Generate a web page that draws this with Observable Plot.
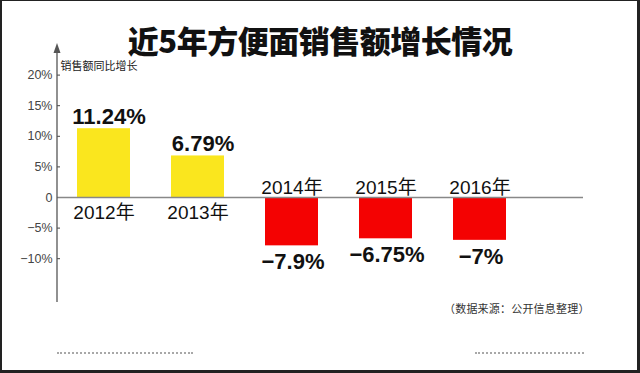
<!DOCTYPE html>
<html>
<head>
<meta charset="utf-8">
<script src="https://cdn.jsdelivr.net/npm/d3@7"></script>
<script src="https://cdn.jsdelivr.net/npm/@observablehq/plot@0.6"></script>
<style>
  html, body { margin: 0; padding: 0; background: #fff; }
  #wrap { position: relative; width: 640px; height: 373px; overflow: hidden; background: #fff;
          font-family: "Liberation Sans", Arial, "Noto Sans CJK SC", sans-serif; }
  #wrap svg { position: absolute; left: 0; top: 0; }
  #title { position: absolute; left: 0; width: 640px; top: 21px; text-align: center;
           font-family: "Noto Sans CJK SC", sans-serif; font-weight: 900; font-size: 31px;
           color: #111; line-height: 1.2; letter-spacing: -0.5px; }
  #source { position: absolute; left: 444px; top: 300px; font-family: "Noto Sans CJK SC", sans-serif;
            font-size: 11px; color: #333; letter-spacing: 0.2px; }
  .dots { position: absolute; top: 352px; height: 0; border-top: 2px dotted #a8a8a8; }
  #border { position: absolute; inset: 0; box-sizing: border-box;
            border-style: solid; border-color: #222; border-width: 1px 3px 3px 2px; pointer-events: none; }
</style>
</head>
<body>
<div id="wrap">
  <div id="chart"></div>
  <div id="title">近5年方便面销售额增长情况</div>
  <div id="source">（数据来源：公开信息整理）</div>
  <div class="dots" style="left:57px;width:136px"></div>
  <div class="dots" style="left:475px;width:109px"></div>
  <div id="border"></div>
</div>
<script>
const years = ["2012年", "2013年", "2014年", "2015年", "2016年"];
const growth = [11.24, 6.79, -7.9, -6.75, -7];
const yTicks = [-10, -5, 0, 5, 10, 15, 20];
const yAxisLabel = "销售额同比增长";

const yellow = "#fae61e";
const red = "#f40202";

const data = years.map((year, i) => ({year, value: growth[i]}));
const pos = data.filter(d => d.value >= 0);
const neg = data.filter(d => d.value < 0);
const fmtVal = v => String(v).replace("-", "−") + "%";
const fmtTick = v => v === 0 ? "0" : String(v).replace("-", "−") + "%";

const axisLine = (index, scales, values, dimensions) => {
  const {marginLeft, marginTop, height, marginBottom} = dimensions;
  const g = d3.create("svg:g");
  g.append("line")
    .attr("x1", marginLeft).attr("x2", marginLeft)
    .attr("y1", marginTop + 4).attr("y2", height - marginBottom)
    .attr("stroke", "#555").attr("stroke-width", 1.3);
  g.append("path")
    .attr("d", `M${marginLeft},${marginTop} L${marginLeft - 3.5},${marginTop + 10} L${marginLeft + 3.5},${marginTop + 10} Z`)
    .attr("fill", "#555");
  return g.node();
};

const chart = Plot.plot({
  width: 640,
  height: 373,
  marginLeft: 57,
  marginRight: 57,
  marginTop: 43,
  marginBottom: 71,
  style: {fontFamily: "'Liberation Sans', Arial, 'Noto Sans CJK SC', sans-serif", fontSize: "12.5px", color: "#444", background: "transparent"},
  x: {type: "band", domain: years, range: [57, 527], paddingInner: 0.436, paddingOuter: 0.218, axis: null},
  y: {domain: [-10, 20], range: [258.2, 74.6], ticks: yTicks, tickFormat: fmtTick, tickSize: -3, tickPadding: 8, label: null},
  color: {type: "identity"},
  marks: [
    Plot.barY(data, {x: "year", y: "value", fill: d => d.value >= 0 ? yellow : red}),
    Plot.ruleY([0], {stroke: "#888", strokeWidth: 1.3}),
    axisLine,
    Plot.text([yAxisLabel], {frameAnchor: "top-left", text: d => d, textAnchor: "start", dx: 3, dy: 19, fontSize: 11, fill: "#222", fontFamily: "'Noto Sans CJK SC', sans-serif"}),
    Plot.text(pos, {x: "year", y: "value", text: d => fmtVal(d.value), lineAnchor: "bottom", dx: 5, dy: -5, fontSize: 22, fontWeight: "bold", fill: "#111"}),
    Plot.text(neg, {x: "year", y: "value", text: d => fmtVal(d.value), lineAnchor: "top", dx: 1, dy: 8, fontSize: 22, fontWeight: "bold", fill: "#111"}),
    Plot.text(pos, {x: "year", y: () => 0, text: "year", lineAnchor: "top", dy: 8, fontSize: 19, fill: "#111"}),
    Plot.text(neg, {x: "year", y: () => 0, text: "year", lineAnchor: "bottom", dy: -4, fontSize: 19, fill: "#111"})
  ]
});
document.getElementById("chart").appendChild(chart);
</script>
</body>
</html>
